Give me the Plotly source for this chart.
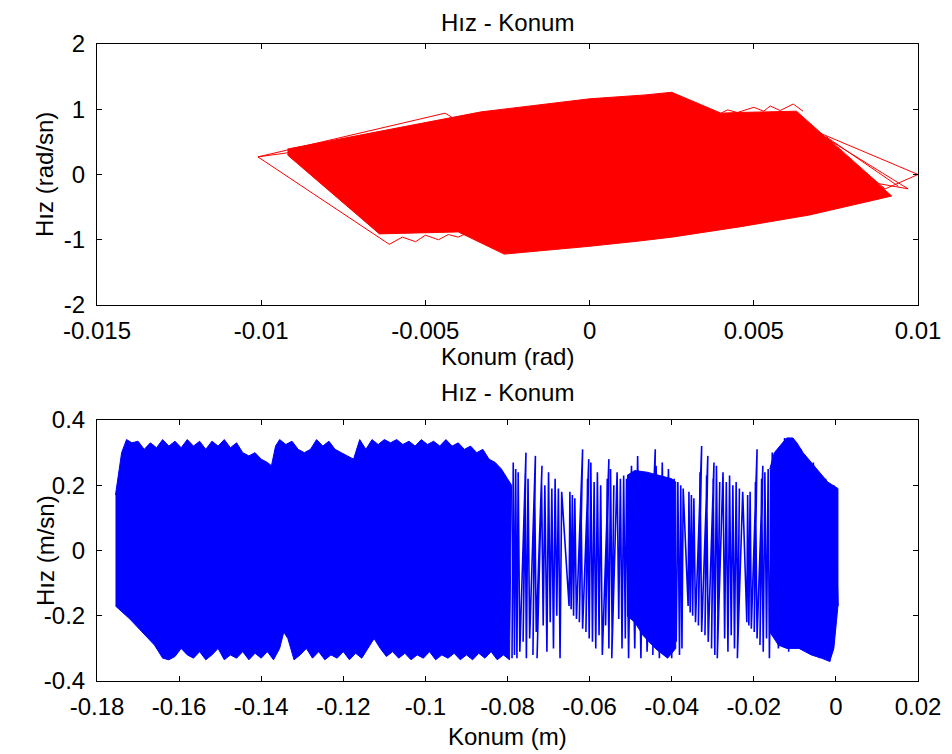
import plotly.graph_objects as go

# ---- top panel (rad) : outline of the dense red phase portrait ----
red_hull_x = [-0.0092, -0.0060, -0.0044, -0.0033, 0.0000, 0.0017, 0.0025, 0.0040, 0.0045, 0.0063,
              0.0092, 0.0067, 0.0046, 0.0025, 0.0015, 0.0000, -0.0026, -0.0031, -0.0040,
              -0.0064, -0.0092]
red_hull_y = [0.39, 0.70, 0.86, 0.96, 1.16, 1.22, 1.26, 0.94, 0.95, 0.97,
              -0.33, -0.62, -0.80, -0.96, -1.02, -1.10, -1.22, -1.10, -0.88,
              -0.91, 0.30]

# sparse outer loops of the top panel
loop_left_x = [-0.0088, -0.0101, -0.0061, -0.0057, -0.0053, -0.0050, -0.0046, -0.0043, -0.0040, -0.0037]
loop_left_y = [0.36, 0.27, -1.07, -0.96, -1.03, -0.93, -1.00, -0.92, -0.96, -0.89]
loop_top_x = [-0.0101, -0.0044, -0.0042]
loop_top_y = [0.27, 0.94, 0.88]
loop_spk_x = [0.0040, 0.0042, 0.0045, 0.0050, 0.0053, 0.0055, 0.0058, 0.0062, 0.0065]
loop_spk_y = [0.94, 0.99, 0.95, 1.03, 0.97, 1.05, 0.98, 1.08, 0.97]
loop_right_x = [0.0068, 0.0100, 0.0090, 0.0070, 0.0097, 0.0088, 0.0072, 0.0094]
loop_right_y = [0.68, 0.00, -0.22, 0.62, -0.22, -0.14, 0.58, -0.18]

# ---- bottom panel (m) : dense blue block ----
blk_x = [-0.1755, -0.1740, -0.1728, -0.1715, -0.1700, -0.1685, -0.1670, -0.1655, -0.1640, -0.1625,
         -0.1610, -0.1595, -0.1580, -0.1565, -0.1550, -0.1535, -0.1520, -0.1505, -0.1490, -0.1475,
         -0.1460, -0.1445, -0.1430, -0.1415, -0.1400, -0.1385, -0.1375, -0.1365, -0.1355, -0.1340,
         -0.1325, -0.1310, -0.1295, -0.1280, -0.1265, -0.1250, -0.1235, -0.1220, -0.1205, -0.1190,
         -0.1175, -0.1160, -0.1145, -0.1130, -0.1115, -0.1100, -0.1085, -0.1070, -0.1055, -0.1040,
         -0.1025, -0.1010, -0.0995, -0.0980, -0.0965, -0.0950, -0.0935, -0.0920, -0.0905, -0.0890,
         -0.0875, -0.0860, -0.0845, -0.0830, -0.0815, -0.0800, -0.0790,
         -0.0795, -0.0810, -0.0825, -0.0840, -0.0855, -0.0870, -0.0885, -0.0900, -0.0915, -0.0930,
         -0.0945, -0.0960, -0.0975, -0.0990, -0.1005, -0.1020, -0.1035, -0.1050, -0.1065, -0.1080,
         -0.1095, -0.1110, -0.1125, -0.1140, -0.1155, -0.1170, -0.1185, -0.1200, -0.1215, -0.1230,
         -0.1245, -0.1260, -0.1275, -0.1290, -0.1305, -0.1320, -0.1335, -0.1345, -0.1355, -0.1370,
         -0.1385, -0.1400, -0.1415, -0.1430, -0.1445, -0.1460, -0.1475, -0.1490, -0.1505, -0.1520,
         -0.1535, -0.1550, -0.1565, -0.1580, -0.1595, -0.1610, -0.1625, -0.1640, -0.1660, -0.1690,
         -0.1720, -0.1755]
blk_y = [0.17, 0.30, 0.34, 0.33, 0.335, 0.31, 0.33, 0.315, 0.34, 0.32,
         0.335, 0.315, 0.34, 0.32, 0.335, 0.31, 0.335, 0.32, 0.34, 0.315,
         0.33, 0.30, 0.29, 0.30, 0.28, 0.27, 0.26, 0.32, 0.34, 0.325,
         0.335, 0.31, 0.30, 0.31, 0.34, 0.32, 0.335, 0.31, 0.30, 0.29,
         0.28, 0.34, 0.31, 0.34, 0.325, 0.34, 0.33, 0.34, 0.325, 0.335,
         0.32, 0.34, 0.325, 0.335, 0.32, 0.34, 0.32, 0.33, 0.31, 0.32,
         0.30, 0.31, 0.28, 0.27, 0.25, 0.22, 0.20,
         -0.335, -0.32, -0.335, -0.31, -0.33, -0.315, -0.335, -0.32, -0.335, -0.315,
         -0.33, -0.32, -0.335, -0.31, -0.33, -0.32, -0.335, -0.315, -0.33, -0.31,
         -0.325, -0.30, -0.27, -0.30, -0.33, -0.315, -0.335, -0.31, -0.33, -0.32,
         -0.335, -0.31, -0.33, -0.30, -0.32, -0.335, -0.27, -0.25, -0.30, -0.335,
         -0.31, -0.33, -0.315, -0.335, -0.31, -0.33, -0.32, -0.335, -0.30, -0.32,
         -0.335, -0.31, -0.33, -0.32, -0.30, -0.325, -0.335, -0.33, -0.29, -0.25,
         -0.21, -0.17]

# dense patches inside the sparse part
patch_a_x = [-0.0509, -0.0490, -0.0460, -0.0430, -0.0400, -0.0390,
             -0.0390, -0.0410, -0.0440, -0.0470, -0.0490, -0.0509]
patch_a_y = [0.23, 0.245, 0.24, 0.23, 0.22, 0.21,
             -0.30, -0.33, -0.30, -0.26, -0.22, -0.20]
patch_b_x = [-0.0161, -0.0150, -0.0130, -0.0120, -0.0105, -0.0095, -0.0080, -0.0060, -0.0040,
             -0.0020, 0.0005, 0.0005, -0.0005, -0.0015, -0.0035, -0.0060, -0.0090, -0.0120,
             -0.0140, -0.0161]
patch_b_y = [0.25, 0.30, 0.33, 0.345, 0.345, 0.33, 0.30, 0.27, 0.24,
             0.21, 0.19, -0.17, -0.30, -0.34, -0.33, -0.32, -0.30, -0.30,
             -0.29, -0.25]

# sparse zig-zag strokes, one list pair per cluster (between the visible gaps)
c1_x = [-0.0789, -0.0786, -0.0783, -0.0780, -0.0777, -0.0774, -0.0770, -0.0755, -0.0762, -0.0757,
        -0.0754, -0.0750, -0.0746, -0.0732, -0.0738, -0.0734, -0.0730, -0.0716, -0.0728, -0.0717,
        -0.0713, -0.0709, -0.0704, -0.0700, -0.0696, -0.0692, -0.0688, -0.0684, -0.0680, -0.0676,
        -0.0672, -0.0668]
c1_y = [-0.33, 0.27, -0.32, 0.25, -0.33, 0.24, -0.31, 0.30, -0.28, 0.23,
        -0.33, 0.22, -0.27, 0.29, -0.32, 0.21, -0.25, 0.26, -0.33, 0.21,
        -0.23, 0.20, -0.31, 0.24, -0.22, 0.19, -0.30, 0.22, -0.20, 0.19,
        -0.33, 0.18]
c2_x = [-0.0650, -0.0648, -0.0645, -0.0642, -0.0639, -0.0636, -0.0632, -0.0617, -0.0625, -0.0621,
        -0.0617, -0.0602, -0.0609, -0.0605, -0.0601, -0.0597, -0.0593, -0.0589, -0.0585, -0.0581,
        -0.0577, -0.0573, -0.0569, -0.0553, -0.0561, -0.0557, -0.0553, -0.0549, -0.0545, -0.0541,
        -0.0546, -0.0533, -0.0529, -0.0525, -0.0521, -0.0517, -0.0513, -0.0510,
        -0.0505, -0.0498, -0.0490, -0.0483, -0.0475, -0.0468, -0.0460, -0.0440, -0.0446, -0.0438,
        -0.0430, -0.0423, -0.0415, -0.0408, -0.0400, -0.0394, -0.0389, -0.0385, -0.0381, -0.0378,
        -0.0375, -0.0372]
c2_y = [-0.17, 0.18, -0.18, 0.17, -0.20, 0.16, -0.21, 0.31, -0.22, 0.15,
        -0.24, 0.28, -0.25, 0.22, -0.27, 0.27, -0.28, 0.21, -0.30, 0.24,
        -0.26, 0.20, -0.32, 0.28, -0.23, 0.22, -0.30, 0.25, -0.27, 0.20,
        -0.33, 0.24, -0.21, 0.22, -0.30, 0.23, -0.27, 0.22,
        -0.33, 0.26, -0.30, 0.29, -0.33, 0.24, -0.31, 0.31, -0.32, 0.26,
        -0.33, 0.27, -0.31, 0.25, -0.33, 0.22, -0.28, 0.21, -0.32, 0.20,
        -0.30, 0.19]
c3_x = [-0.0360, -0.0358, -0.0355, -0.0352, -0.0349, -0.0346, -0.0342, -0.0327, -0.0335, -0.0331,
        -0.0327, -0.0312, -0.0319, -0.0315, -0.0311, -0.0297, -0.0303, -0.0299, -0.0295, -0.0291,
        -0.0287, -0.0283, -0.0289, -0.0275, -0.0271, -0.0267, -0.0263, -0.0259, -0.0255, -0.0251,
        -0.0247, -0.0243, -0.0239, -0.0235, -0.0240, -0.0227]
c3_y = [-0.17, 0.18, -0.19, 0.17, -0.20, 0.16, -0.22, 0.32, -0.23, 0.24,
        -0.25, 0.29, -0.26, 0.23, -0.28, 0.27, -0.30, 0.22, -0.32, 0.26,
        -0.25, 0.21, -0.33, 0.24, -0.27, 0.21, -0.31, 0.23, -0.26, 0.20,
        -0.30, 0.21, -0.27, 0.19, -0.33, 0.18]
c4_x = [-0.0217, -0.0215, -0.0212, -0.0209, -0.0206, -0.0192, -0.0199, -0.0196, -0.0192, -0.0178,
        -0.0185, -0.0181, -0.0177, -0.0173, -0.0169, -0.0165, -0.0162,
        -0.0155, -0.0140, -0.0125, -0.0115, -0.0105, -0.0095, -0.0085, -0.0070, -0.0055, -0.0040,
        -0.0025, -0.0015, -0.0005, 0.0005]
c4_y = [-0.22, 0.17, -0.23, 0.18, -0.24, 0.31, -0.25, 0.21, -0.27, 0.26,
        -0.29, 0.22, -0.31, 0.24, -0.27, 0.25, -0.33,
        0.30, -0.30, 0.345, -0.31, 0.345, -0.30, 0.31, -0.31, 0.27, -0.33,
        0.22, -0.34, 0.20, -0.17]

top_xticks = [-0.015, -0.01, -0.005, 0, 0.005, 0.01]
top_xtext = ["-0.015", "-0.01", "-0.005", "0", "0.005", "0.01"]
top_yticks = [-2, -1, 0, 1, 2]
top_ytext = ["-2", "-1", "0", "1", "2"]
bot_xticks = [-0.18, -0.16, -0.14, -0.12, -0.1, -0.08, -0.06, -0.04, -0.02, 0, 0.02]
bot_xtext = ["-0.18", "-0.16", "-0.14", "-0.12", "-0.1", "-0.08", "-0.06", "-0.04", "-0.02", "0", "0.02"]
bot_yticks = [-0.4, -0.2, 0, 0.2, 0.4]
bot_ytext = ["-0.4", "-0.2", "0", "0.2", "0.4"]

RED = "#ff0000"
BLUE = "#0000ff"
FONT = "Liberation Sans, Arial, sans-serif"
FS = 24
W, H = 952, 754
OFF = 8  # the page body adds an 8px margin around the plot

fig = go.Figure()

# top panel
fig.add_trace(go.Scatter(x=red_hull_x, y=red_hull_y, mode="lines", fill="toself",
                         fillcolor=RED, line=dict(color=RED, width=1), xaxis="x", yaxis="y"))
for lx, ly in [(loop_left_x, loop_left_y), (loop_top_x, loop_top_y),
               (loop_spk_x, loop_spk_y), (loop_right_x, loop_right_y)]:
    fig.add_trace(go.Scatter(x=lx, y=ly, mode="lines", line=dict(color=RED, width=1),
                             xaxis="x", yaxis="y"))

# bottom panel
for px_, py_ in [(blk_x, blk_y), (patch_a_x, patch_a_y), (patch_b_x, patch_b_y)]:
    fig.add_trace(go.Scatter(x=px_, y=py_, mode="lines", fill="toself",
                             fillcolor=BLUE, line=dict(color=BLUE, width=1),
                             xaxis="x2", yaxis="y2"))
zig_x = c1_x + c2_x + c3_x + c4_x
zig_y = c1_y + c2_y + c3_y + c4_y
fig.add_trace(go.Scatter(x=zig_x, y=zig_y, mode="lines", line=dict(color=BLUE, width=1.6),
                         xaxis="x2", yaxis="y2"))


def xdom(a, b):
    return [(a - OFF) / W, (b - OFF) / W]


def ydom(top, bottom):
    return [1 - (bottom - OFF) / H, 1 - (top - OFF) / H]


ax_common = dict(showgrid=False, zeroline=False, showline=True, linecolor="black",
                 linewidth=1, mirror="ticks", ticks="inside", ticklen=5, tickcolor="black",
                 automargin=False,
                 tickfont=dict(family=FONT, size=FS, color="black"))

fig.update_layout(
    width=W, height=H,
    margin=dict(l=0, r=0, t=0, b=0),
    paper_bgcolor="white", plot_bgcolor="white",
    showlegend=False,
    font=dict(family=FONT, size=FS, color="black"),
    xaxis=dict(domain=xdom(97, 918), range=[-0.015, 0.01], anchor="y",
               tickvals=top_xticks, ticktext=top_xtext, ticklabelstandoff=4, **ax_common),
    yaxis=dict(domain=ydom(44, 305), range=[-2, 2], anchor="x",
               tickvals=top_yticks, ticktext=top_ytext, ticklabelstandoff=6, **ax_common),
    xaxis2=dict(domain=xdom(97, 918), range=[-0.18, 0.02], anchor="y2",
                tickvals=bot_xticks, ticktext=bot_xtext, ticklabelstandoff=4, **ax_common),
    yaxis2=dict(domain=ydom(420, 681), range=[-0.4, 0.4], anchor="x2",
                tickvals=bot_yticks, ticktext=bot_ytext, ticklabelstandoff=6, **ax_common),
)

labels = [
    ("Hız - Konum", 507, 23, 0),
    ("Konum (rad)", 507, 356, 0),
    ("Hız - Konum", 507, 392, 0),
    ("Konum (m)", 507, 736, 0),
    ("Hız (rad/sn)", 45, 175, -90),
    ("Hız (m/sn)", 45, 551, -90),
]
for txt, xp, yp, ang in labels:
    fig.add_annotation(text=txt, x=(xp - OFF) / W, y=1 - (yp - OFF) / H,
                       xref="paper", yref="paper", borderpad=0,
                       showarrow=False, textangle=ang, xanchor="center", yanchor="middle",
                       font=dict(family=FONT, size=FS, color="black"))

fig.write_html("out.html")
